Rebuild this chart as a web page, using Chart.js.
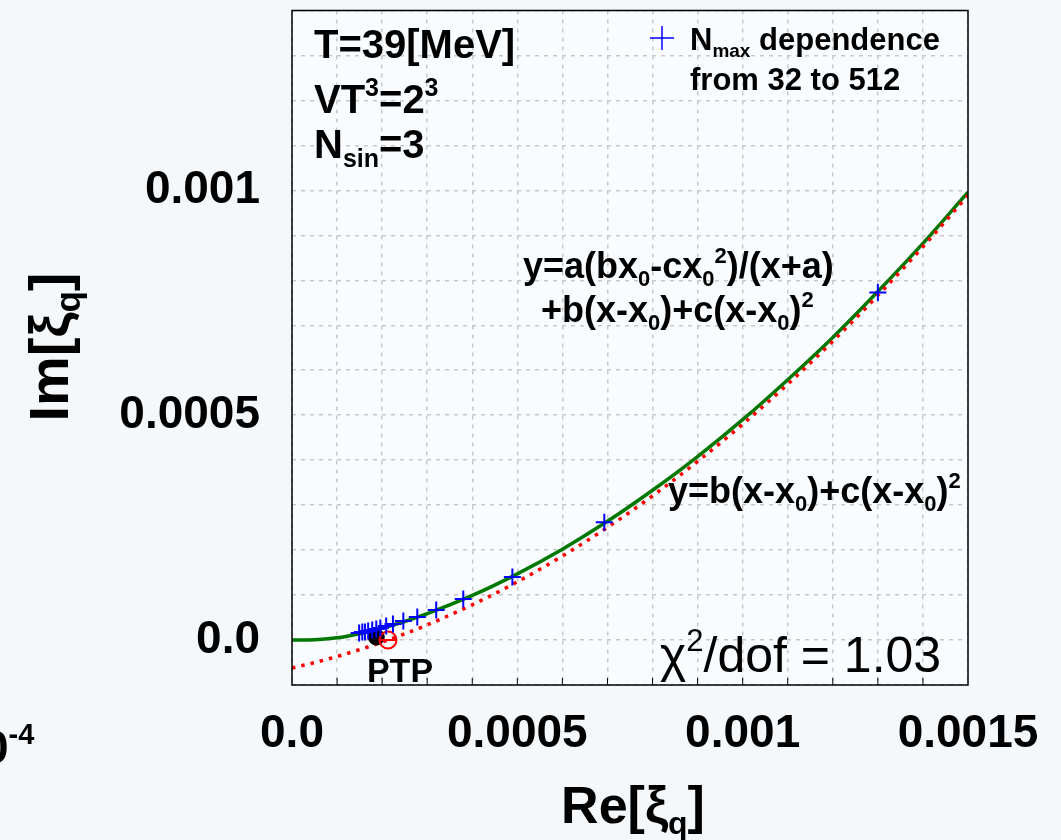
<!DOCTYPE html>
<html>
<head>
<meta charset="utf-8">
<script src="https://cdn.jsdelivr.net/npm/chart.js@4.4.1/dist/chart.umd.min.js"></script>
<style>
html, body { margin: 0; padding: 0; background: #f4f8fb; }
</style>
</head>
<body>
<canvas id="GraficoXi" width="1061" height="840"></canvas>
<script>
// N_max dependence, N_max from 32 to 512
var reXi = [0.00130, 0.000693, 0.000489, 0.000380, 0.000320, 0.000278, 0.000247, 0.000224,
            0.000209, 0.000196, 0.000187, 0.000178, 0.000169, 0.000162, 0.000156, 0.000149];
var imXi = [0.000773, 0.000262, 0.000140, 0.0000911, 0.0000667, 0.0000511, 0.0000422, 0.0000356,
            0.0000311, 0.0000267, 0.0000244, 0.0000222, 0.0000200, 0.0000178, 0.0000178, 0.0000156];

// fit curves
var fitRe = [0, 0.00005, 0.0001, 0.00015, 0.0002, 0.00025, 0.0003, 0.0004, 0.0005, 0.0006,
             0.0007, 0.0008, 0.0009, 0.001, 0.0011, 0.0012, 0.0013, 0.0014, 0.0015];
var fitPole = [0, 0.0000005, 0.0000049, 0.0000141, 0.0000265, 0.0000413, 0.0000586, 0.0000991,
               0.0001472, 0.000202, 0.000264, 0.000333, 0.000408, 0.000490, 0.000579, 0.000673,
               0.000775, 0.000882, 0.000996];
var fitQuad = [-0.0000622, -0.0000502, -0.0000366, -0.0000214, -0.0000046, 0.0000137, 0.0000337,
               0.0000784, 0.0001294, 0.0001868, 0.0002505, 0.0003206, 0.0003971, 0.0004799,
               0.000569, 0.0006645, 0.0007664, 0.0008746, 0.000989];

var ptpRe = [0.000187], ptpIm = [0.0000067];
var x0Re = [0.000213], x0Im = [0];

var xTicks = [0, 0.0005, 0.001, 0.0015];
var yTicks = [0, 0.0005, 0.001];

function pontos(xs, ys) {
    return xs.map(function (x, i) { return { x: x, y: ys[i] }; });
}

function rotulo(v, lista) {
    for (var i = 0; i < lista.length; i++) {
        if (Math.abs(v - lista[i]) < 1e-9) return lista[i] === 0 ? '0.0' : String(lista[i]);
    }
    return '';
}

function rich(ctx, x, y, parts, size, weight, align) {
    function fonte(k) {
        var s = k === 'n' ? size : Math.round(size * 0.62);
        return weight + ' ' + s + 'px "Liberation Sans", Arial, sans-serif';
    }
    var total = 0;
    parts.forEach(function (p) { ctx.font = fonte(p[1]); total += ctx.measureText(p[0]).width; });
    var cx = align === 'center' ? x - total / 2 : (align === 'right' ? x - total : x);
    ctx.textAlign = 'left';
    ctx.textBaseline = 'alphabetic';
    parts.forEach(function (p) {
        ctx.font = fonte(p[1]);
        var dy = p[1] === 'sub' ? size * 0.22 : (p[1] === 'sup' ? -size * 0.42 : 0);
        ctx.fillText(p[0], cx, y + dy);
        cx += ctx.measureText(p[0]).width;
    });
}

var fundo = {
    id: 'fundo',
    beforeDraw: function (chart) {
        var ctx = chart.ctx, a = chart.chartArea;
        ctx.save();
        ctx.fillStyle = '#f4f8fb';
        ctx.fillRect(0, 0, chart.width, chart.height);
        ctx.fillStyle = '#f9fcff';
        ctx.fillRect(a.left, a.top, a.right - a.left, a.bottom - a.top);
        ctx.restore();
    },
    afterDraw: function (chart) {
        var ctx = chart.ctx, a = chart.chartArea, sx = chart.scales.x;
        ctx.save();
        ctx.strokeStyle = '#000';
        ctx.lineWidth = 1.5;
        ctx.strokeRect(a.left, a.top, a.right - a.left, a.bottom - a.top);
        ctx.beginPath();
        for (var i = 1; i < 15; i++) {
            var px = sx.getPixelForValue(i * 0.0001);
            ctx.moveTo(px, a.bottom);
            ctx.lineTo(px, a.bottom - 7);
        }
        ctx.lineWidth = 1;
        ctx.stroke();

        ctx.fillStyle = '#000';
        rich(ctx, 314, 58, [['T=39[MeV]', 'n']], 40, 'bold');
        rich(ctx, 314, 113, [['VT', 'n'], ['3', 'sup'], ['=2', 'n'], ['3', 'sup']], 40, 'bold');
        rich(ctx, 314, 158, [['N', 'n'], ['sin', 'sub'], ['=3', 'n']], 40, 'bold');

        // legenda
        ctx.strokeStyle = '#0000ff';
        ctx.lineWidth = 1.5;
        ctx.beginPath();
        ctx.moveTo(650, 38); ctx.lineTo(674, 38);
        ctx.moveTo(662, 26); ctx.lineTo(662, 50);
        ctx.stroke();
        rich(ctx, 690, 50, [['N', 'n'], ['max', 'sub'], [' dependence', 'n']], 31, 'bold');
        rich(ctx, 690, 90, [['from 32 to 512', 'n']], 31, 'bold');

        rich(ctx, 523, 278, [['y=a(bx', 'n'], ['0', 'sub'], ['-cx', 'n'], ['0', 'sub'], ['2', 'sup'], [')/(x+a)', 'n']], 36, 'bold');
        rich(ctx, 541, 322, [['+b(x-x', 'n'], ['0', 'sub'], [')+c(x-x', 'n'], ['0', 'sub'], [')', 'n'], ['2', 'sup']], 36, 'bold');
        rich(ctx, 668, 503, [['y=b(x-x', 'n'], ['0', 'sub'], [')+c(x-x', 'n'], ['0', 'sub'], [')', 'n'], ['2', 'sup']], 36, 'bold');
        rich(ctx, 660, 672, [['\u03c7', 'n'], ['2', 'sup'], ['/dof = 1.03', 'n']], 50, 'normal');
        rich(ctx, 400, 682, [['PTP', 'n']], 34, 'bold', 'center');

        rich(ctx, 633, 823, [['Re[\u03be', 'n'], ['q', 'sub'], [']', 'n']], 52, 'bold', 'center');
        ctx.save();
        ctx.translate(68, 347);
        ctx.rotate(-Math.PI / 2);
        rich(ctx, 0, 0, [['Im[\u03be', 'n'], ['q', 'sub'], [']', 'n']], 56, 'bold', 'center');
        ctx.restore();

        rich(ctx, -17, 763, [['0', 'n'], ['-4', 'sup']], 46, 'bold');
        ctx.restore();
    }
};

var ctx = document.getElementById('GraficoXi').getContext('2d');
var grafico = new Chart(ctx, {
    type: 'scatter',
    data: {
        datasets: [
            {
                label: 'N_max dependence',
                data: pontos(reXi, imXi),
                pointStyle: 'cross',
                pointRadius: 8.5,
                borderColor: '#0000ff',
                pointBorderWidth: 2,
                showLine: false,
                order: 1
            },
            {
                label: 'PTP',
                data: pontos(ptpRe, ptpIm),
                pointStyle: 'circle',
                pointRadius: 8,
                backgroundColor: '#000',
                borderColor: '#000',
                showLine: false,
                order: 3
            },
            {
                label: 'x0',
                data: pontos(x0Re, x0Im),
                pointStyle: 'circle',
                pointRadius: 8.5,
                backgroundColor: 'rgba(0,0,0,0)',
                borderColor: '#ff0000',
                pointBorderWidth: 2,
                showLine: false,
                order: 2
            },
            {
                label: 'x0 bar',
                data: pontos(x0Re, x0Im),
                pointStyle: 'line',
                pointRadius: 8.5,
                borderColor: '#ff0000',
                pointBorderWidth: 2,
                showLine: false,
                order: 2
            },
            {
                label: 'pole fit',
                data: pontos(fitRe, fitPole),
                showLine: true,
                pointRadius: 0,
                borderColor: '#007800',
                borderWidth: 3.5,
                cubicInterpolationMode: 'monotone',
                order: 5
            },
            {
                label: 'quadratic fit',
                data: pontos(fitRe, fitQuad),
                showLine: true,
                pointRadius: 0,
                borderColor: '#ff0000',
                borderWidth: 3.5,
                borderDash: [3.5, 6],
                cubicInterpolationMode: 'monotone',
                order: 4
            }
        ]
    },
    options: {
        responsive: false,
        animation: false,
        layout: { padding: { top: 8, right: 93, left: 0, bottom: 0 } },
        plugins: {
            legend: { display: false },
            tooltip: { enabled: false }
        },
        scales: {
            x: {
                type: 'linear',
                min: 0,
                max: 0.0015,
                afterFit: function (s) {
                    s.height = 155;
                    s.paddingLeft = 0; s.paddingRight = 0;
                },
                grid: { color: '#c8c8c8', lineWidth: 1.5, drawTicks: false },
                border: { display: false, dash: [4, 5] },
                ticks: {
                    stepSize: 0.0001,
                    autoSkip: false,
                    maxRotation: 0,
                    padding: 22,
                    color: '#000',
                    font: { family: '"Liberation Sans", Arial, sans-serif', size: 46, weight: 'bold' },
                    callback: function (v) { return rotulo(v, xTicks); }
                }
            },
            y: {
                type: 'linear',
                min: -0.0001,
                max: 0.0014,
                afterFit: function (s) {
                    s.width = 292;
                    s.paddingTop = 0; s.paddingBottom = 0;
                },
                grid: { color: '#c8c8c8', lineWidth: 1.5, drawTicks: false },
                border: { display: false, dash: [4, 5] },
                ticks: {
                    stepSize: 0.0001,
                    autoSkip: false,
                    padding: 32,
                    color: '#000',
                    font: { family: '"Liberation Sans", Arial, sans-serif', size: 46, weight: 'bold' },
                    callback: function (v) { return rotulo(v, yTicks); }
                }
            }
        }
    },
    plugins: [fundo]
});
</script>
</body>
</html>
